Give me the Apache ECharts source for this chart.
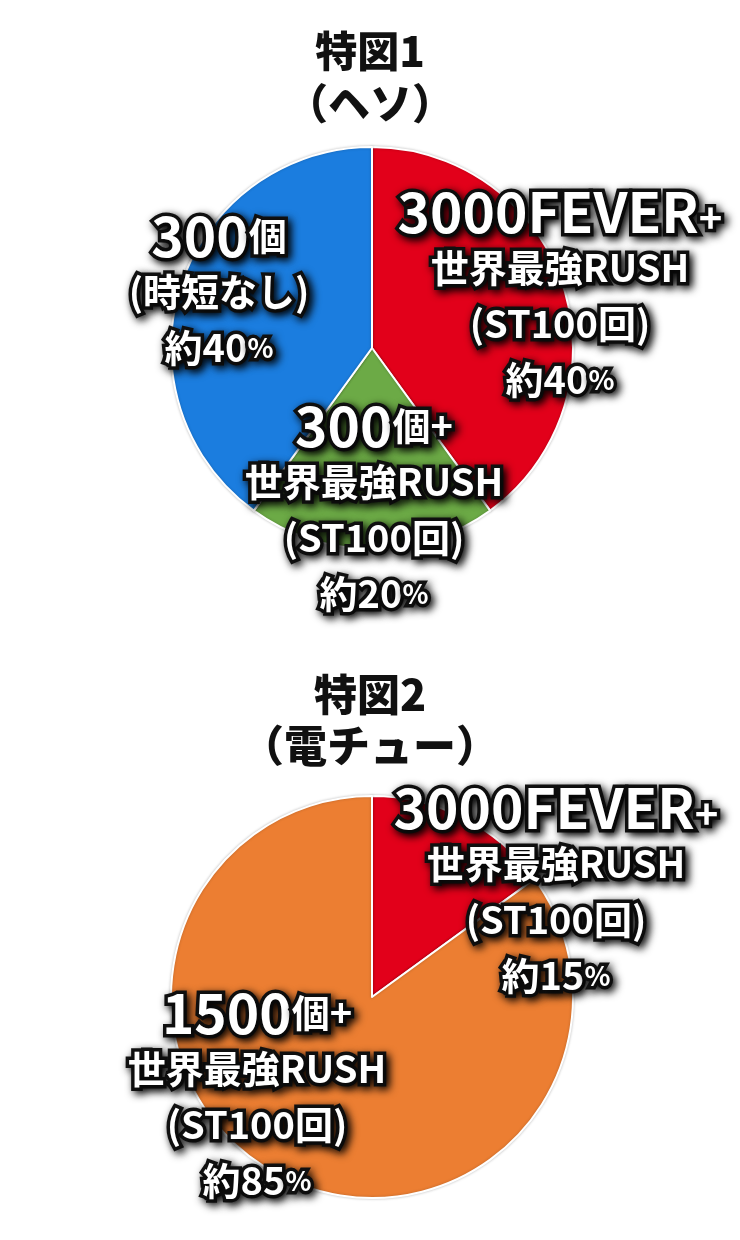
<!DOCTYPE html>
<html>
<head>
<meta charset="utf-8">
<script src="https://cdn.jsdelivr.net/npm/echarts@6/dist/echarts.min.js"></script>
<style>
html,body{margin:0;padding:0;background:#fff;}
#chart{width:740px;height:1240px;}
</style>
</head>
<body>
<div id="chart"></div>
<script>
// ---- data ----
const titles = ['特図1\n（ヘソ）', '特図2\n（電チュー）'];
const pie1Names = ['3000FEVER+世界最強RUSH(ST100回)', '300個+世界最強RUSH(ST100回)', '300個(時短なし)'];
const pie1Values = [40, 20, 40];
const pie1Labels = [
  '{big|3000FEVER}{sm|+}\n世界最強RUSH\n(ST100回)\n約40{pct|%}',
  '{big|300}個+\n世界最強RUSH\n(ST100回)\n約20{pct|%}',
  '{big|300}個\n(時短なし)\n約40{pct|%}'
];
const pie2Names = ['3000FEVER+世界最強RUSH(ST100回)', '1500個+世界最強RUSH(ST100回)'];
const pie2Values = [15, 85];
const pie2Labels = [
  '{big|3000FEVER}{sm|+}\n世界最強RUSH\n(ST100回)\n約15{pct|%}',
  '{big|1500}個+\n世界最強RUSH\n(ST100回)\n約85{pct|%}'
];

// ---- styles ----
const pie1Colors = ['#e2001a', '#6caa46', '#1b7ddf'];
const pie2Colors = ['#e2001a', '#ec7e32'];
const pie1LabelPos = [[560, 296], [374, 510], [219, 292]];
const pie2LabelPos = [[556, 892], [257, 1097]];
const FONT = '"Noto Sans CJK JP", "Noto Sans", sans-serif';

const outline = {
  color: '#fff',
  fontFamily: FONT,
  fontWeight: 'bold',
  textBorderColor: '#111',
  textBorderWidth: 7,
  textShadowColor: 'rgba(0,0,0,0.9)',
  textShadowBlur: 9,
  textShadowOffsetX: 3,
  textShadowOffsetY: 3
};
function rich() {
  return {
    big: Object.assign({}, outline, {fontSize: 55, lineHeight: 56}),
    sm: Object.assign({}, outline, {fontSize: 40, lineHeight: 44, padding: [12, 0, 0, 0]}),
    pct: Object.assign({}, outline, {fontSize: 27, lineHeight: 56})
  };
}
function buildData(names, values, labels, colors) {
  return names.map((n, i) => ({
    name: n,
    value: values[i],
    itemStyle: {color: colors[i]},
    label: {formatter: labels[i]}
  }));
}
function pieSeries(center, data, pos) {
  return {
    type: 'pie',
    radius: 201,
    center: center,
    startAngle: 90,
    clockwise: true,
    animation: false,
    silent: true,
    itemStyle: {
      borderColor: '#fff',
      borderWidth: 2,
      shadowBlur: 3,
      shadowColor: 'rgba(0,0,0,0.22)'
    },
    label: Object.assign({}, outline, {
      show: true,
      position: 'inside',
      fontSize: 38,
      lineHeight: 56,
      align: 'center',
      rich: rich()
    }),
    labelLine: {show: false},
    labelLayout: function (p) {
      const q = pos[p.dataIndex];
      return {x: q[0], y: q[1], align: 'center', verticalAlign: 'middle'};
    },
    data: data
  };
}

const chart = echarts.init(document.getElementById('chart'), null, {renderer: 'canvas'});
chart.setOption({
  backgroundColor: '#fff',
  animation: false,
  title: [
    {
      text: titles[0], left: 'center', top: 20,
      textStyle: {fontFamily: FONT, fontWeight: 900, fontSize: 42, lineHeight: 52, color: '#111'}
    },
    {
      text: titles[1], left: 'center', top: 664,
      textStyle: {fontFamily: FONT, fontWeight: 900, fontSize: 43, lineHeight: 51, color: '#111'}
    }
  ],
  series: [
    pieSeries([372, 348], buildData(pie1Names, pie1Values, pie1Labels, pie1Colors), pie1LabelPos),
    pieSeries([372, 997], buildData(pie2Names, pie2Values, pie2Labels, pie2Colors), pie2LabelPos)
  ]
});
</script>
</body>
</html>
